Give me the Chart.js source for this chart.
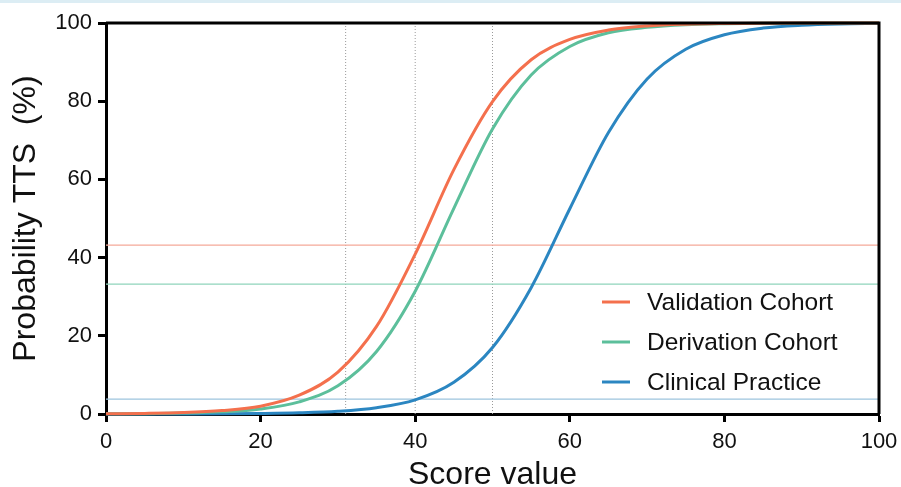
<!DOCTYPE html>
<html>
<head>
<meta charset="utf-8">
<script src="https://cdn.jsdelivr.net/npm/chart.js@4.4.1/dist/chart.umd.min.js"></script>
<style>
  html, body { margin: 0; padding: 0; background: #fff; }
  #wrap { position: relative; width: 901px; height: 487px; }
  #strip { position: absolute; left: 0; top: 0; width: 901px; height: 3px; background: #dcedf4; }
  canvas { display: block; }
</style>
</head>
<body>
<div id="wrap">
  <canvas id="c" width="901" height="487"></canvas>
  <div id="strip"></div>
</div>
<script>
// ---- data ----
const scores      = [0, 5, 10, 15, 20, 25, 30, 35, 40, 45, 50, 55, 60, 65, 70, 75, 80, 85, 90, 95, 100];
const validation  = [0.06, 0.15, 0.36, 0.87, 2.0, 4.8, 10.7, 22.4, 40.9, 62.5, 79.9, 90.6, 95.8, 98.2, 99.25, 99.69, 99.87, 99.95, 99.98, 99.99, 100];
const derivation  = [0.04, 0.09, 0.23, 0.55, 1.3, 3.1, 7.2, 16.0, 31.4, 52.6, 72.9, 86.7, 94.0, 97.5, 98.9, 99.56, 99.82, 99.93, 99.97, 99.99, 100];
const clinical    = [0.0, 0.01, 0.02, 0.05, 0.13, 0.3, 0.69, 1.6, 3.6, 8.1, 17.0, 32.3, 52.5, 72.0, 85.7, 93.3, 97.0, 98.7, 99.43, 99.76, 99.9];
const seriesNames = ["Validation Cohort", "Derivation Cohort", "Clinical Practice"];
const seriesColors = ["#f4704d", "#5cbf9b", "#2b86c1"];
const refColors    = ["#f5a999", "#8fd4bb", "#9dc4de"];
const cutoffProbs  = [43.2, 33.2, 3.8];   // horizontal reference lines
const cutoffScores = [31, 40, 50];        // vertical dotted lines
const xTicks = [0, 20, 40, 60, 80, 100];
const yTicks = [0, 20, 40, 60, 80, 100];

const FONT = "'Liberation Sans', Arial, Helvetica, sans-serif";

const curves = [validation, derivation, clinical].map((vals, i) => ({
  label: seriesNames[i],
  data: scores.map((s, j) => ({ x: s, y: vals[j] })),
  borderColor: seriesColors[i],
  backgroundColor: seriesColors[i],
  borderWidth: 3,
  pointRadius: 0,
  cubicInterpolationMode: 'monotone',
  fill: false,
  order: 0,
  clip: 4
}));

const hRefs = cutoffProbs.map((p, i) => ({
  label: 'ref-h-' + i,
  data: [{ x: 0, y: p }, { x: 100, y: p }],
  borderColor: refColors[i],
  borderWidth: 1.2,
  pointRadius: 0,
  fill: false,
  order: 2
}));

const vRefs = cutoffScores.map((s, i) => ({
  label: 'ref-v-' + i,
  data: [{ x: s, y: 0 }, { x: s, y: 100 }],
  borderColor: '#9a9a9a',
  borderWidth: 1,
  borderDash: [1, 2],
  pointRadius: 0,
  fill: false,
  order: 3
}));

const framePlugin = {
  id: 'frame',
  afterDatasetsDraw(chart) {
    const { ctx, chartArea: a } = chart;
    ctx.save();
    ctx.strokeStyle = '#000';
    ctx.lineWidth = 3;
    ctx.beginPath();
    ctx.moveTo(a.left, a.top);
    ctx.lineTo(a.right, a.top);
    ctx.lineTo(a.right, a.bottom);
    ctx.stroke();
    ctx.restore();
  }
};

const legendPlugin = {
  id: 'insideLegend',
  afterDraw(chart) {
    const { ctx } = chart;
    ctx.save();
    ctx.font = '24.5px ' + FONT;
    ctx.textBaseline = 'middle';
    ctx.textAlign = 'left';
    const ys = [302, 342, 382];
    seriesNames.forEach((name, i) => {
      ctx.strokeStyle = seriesColors[i];
      ctx.lineWidth = 3;
      ctx.beginPath();
      ctx.moveTo(602, ys[i]);
      ctx.lineTo(630, ys[i]);
      ctx.stroke();
      ctx.fillStyle = '#111';
      ctx.fillText(name, 647, ys[i] + 1);
    });
    ctx.restore();
  }
};

new Chart(document.getElementById('c'), {
  type: 'line',
  data: { datasets: [...curves, ...hRefs, ...vRefs] },
  options: {
    responsive: false,
    animation: false,
    events: [],
    layout: { padding: { top: 23, right: 22, left: 0, bottom: 0 } },
    plugins: { legend: { display: false }, tooltip: { enabled: false } },
    scales: {
      x: {
        type: 'linear',
        min: 0, max: 100,
        afterBuildTicks(scale) { scale.ticks = xTicks.map(v => ({ value: v })); },
        afterFit(scale) { scale.height = 73; scale.paddingLeft = 0; scale.paddingRight = 0; },
        border: { display: true, color: '#000', width: 3 },
        grid: { drawOnChartArea: false, drawTicks: true, tickLength: 8, tickWidth: 3, tickColor: '#000', color: '#000' },
        ticks: { color: '#111', font: { family: FONT, size: 22 }, padding: 7, maxRotation: 0 },
        title: { display: true, text: 'Score value', color: '#111', font: { family: FONT, size: 32, lineHeight: 0.75 }, padding: { top: 0, bottom: 0 } }
      },
      y: {
        type: 'linear',
        min: 0, max: 100,
        afterBuildTicks(scale) { scale.ticks = yTicks.map(v => ({ value: v })); },
        afterFit(scale) { scale.width = 106; scale.paddingTop = 0; scale.paddingBottom = 0; },
        border: { display: true, color: '#000', width: 3 },
        grid: { drawOnChartArea: false, drawTicks: true, tickLength: 8, tickWidth: 3, tickColor: '#000', color: '#000' },
        ticks: { color: '#111', font: { family: FONT, size: 22 }, padding: 6 },
        title: { display: true, text: 'Probability TTS  (%)', color: '#111', font: { family: FONT, size: 32, lineHeight: 1.2 }, padding: { top: 7, bottom: 0 } }
      }
    }
  },
  plugins: [framePlugin, legendPlugin]
});
</script>
</body>
</html>
